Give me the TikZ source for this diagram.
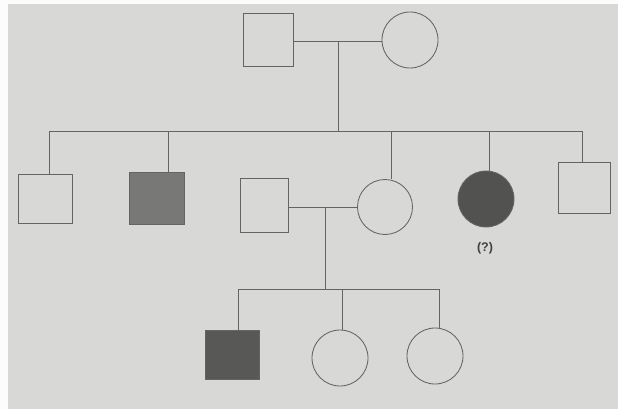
\documentclass[tikz,border=0pt]{standalone}
\usepackage{fontspec}
\setsansfont{Liberation Sans}
\usetikzlibrary{calc}
\definecolor{paper}{RGB}{216,216,214}
\definecolor{ink}{RGB}{100,100,100}
\definecolor{affsq}{RGB}{120,120,118}
\definecolor{affsqb}{RGB}{88,88,86}
\definecolor{affci}{RGB}{82,82,80}
\tikzset{
  ped/.style={draw=ink, line width=0.85pt},
  male/.style={ped, rectangle, inner sep=0pt},
  female/.style={ped, circle, inner sep=0pt, minimum size=55pt},
  line/.style={draw=ink, line width=0.85pt},
}
\begin{document}
\begin{tikzpicture}[x=1pt,y=-1pt]
\fill[paper] (0,0) rectangle (618,409);
\fill[white!92!paper] (0,0) rectangle (8,409);
\fill[white!92!paper] (0,0) rectangle (618,4);
\useasboundingbox (0,0) rectangle (618,409);
% generation I
\node[male, minimum width=50pt, minimum height=53pt] (I1) at (268,40) {};
\node[female, minimum size=56pt] (I2) at (410,40) {};
% generation II
\node[male, minimum width=54pt, minimum height=49pt] (II1) at (45,199) {};
\node[male, fill=affsq, minimum width=55pt, minimum height=52pt] (II2) at (157,198) {};
\node[male, minimum width=48pt, minimum height=54pt] (II3) at (264,205) {};
\node[female] (II4) at (385,207) {};
\node[female, fill=affci, minimum size=56pt] (II5) at (486,199) {};
\node[male, minimum width=52pt, minimum height=51pt] (II6) at (584,188) {};
\node[font=\sffamily\bfseries\fontsize{12.5}{14}\selectfont, text=black!75] (q) at (485,248) {(?)};
% generation III
\node[male, fill=affsqb, minimum width=54pt, minimum height=49pt] (III1) at (232,355) {};
\node[female, minimum size=56pt] (III2) at (340,358) {};
\node[female, minimum size=56pt] (III3) at (435,356) {};
% top marriage and sibship
\coordinate (m1) at (338,41);
\coordinate (s1) at (49,131);
\coordinate (s2) at (168,131);
\coordinate (s4) at (391,131);
\coordinate (s5) at (489,131);
\coordinate (s6) at (582,131);
\coordinate (sm) at (338,131);
\draw[line] (I1.east |- m1) -- (I2.west |- m1);
\draw[line] (m1) -- (sm);
\draw[line] (s1) -- (s6);
\draw[line] (s1) -- (s1 |- II1.north);
\draw[line] (s2) -- (s2 |- II2.north);
\draw[line] (s4) -- (s4 |- II4.north);
\draw[line] (s5) -- (s5 |- II5.north);
\draw[line] (s6) -- (s6 |- II6.north);
% second marriage and sibship
\coordinate (m2) at (325,207);
\coordinate (t1) at (238,289);
\coordinate (tm) at (325,289);
\coordinate (t2) at (342,289);
\coordinate (t3) at (439,289);
\draw[line] (II3.east |- m2) -- (II4.west |- m2);
\draw[line] (m2) -- (tm);
\draw[line] (t1) -- (t3);
\draw[line] (t1) -- (t1 |- III1.north);
\draw[line] (t2) -- (t2 |- III2.north);
\draw[line] (t3) -- (t3 |- III3.north);
\end{tikzpicture}
\end{document}
